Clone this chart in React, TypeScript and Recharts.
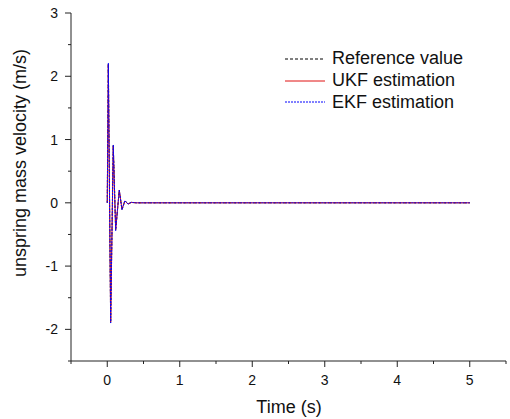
import { LineChart, Line, XAxis, YAxis, Legend } from "recharts";

// ---------------------------------------------------------------------------
// Data
// ---------------------------------------------------------------------------
const timeS = [0, 0.015, 0.047, 0.083, 0.116, 0.166, 0.203, 0.244, 0.286, 0.33, 0.4, 1, 2, 3, 4, 5];
const referenceV = [0, 2.2, -1.89, 0.91, -0.43, 0.2, -0.11, 0.035, -0.02, 0.008, 0, 0, 0, 0, 0, 0];
const ukfV = [0, 2.19, -1.88, 0.9, -0.42, 0.2, -0.1, 0.03, -0.02, 0.006, 0, 0, 0, 0, 0, 0];
const ekfV = [0, 2.21, -1.9, 0.915, -0.44, 0.205, -0.11, 0.035, -0.02, 0.008, 0, 0, 0, 0, 0, 0];

const xTicks = [-0.5, 0, 0.5, 1, 1.5, 2, 2.5, 3, 3.5, 4, 4.5, 5, 5.5];
const yTicks = [-2.5, -2, -1.5, -1, -0.5, 0, 0.5, 1, 1.5, 2, 2.5, 3];

const seriesNames = ["Reference value", "UKF estimation", "EKF estimation"];
const seriesColors = ["#000000", "#e01010", "#0000ff"];
const seriesDash = ["3 2", undefined, "2 1"];

const data = timeS.map((t, i) => ({
  t,
  ref: referenceV[i],
  ukf: ukfV[i],
  ekf: ekfV[i],
}));

const FONT = '"Liberation Sans", Arial, Helvetica, sans-serif';

// ---------------------------------------------------------------------------
// Ticks
// ---------------------------------------------------------------------------
function XTick({ x, y, payload }: any) {
  const v = payload.value;
  const major = Number.isInteger(v);
  return (
    <g>
      <line x1={x} x2={x} y1={y} y2={y + (major ? 6 : 3)} stroke="#222" />
      {major && (
        <text x={x} y={y + 24} textAnchor="middle" fontSize={14} fill="#111" fontFamily={FONT}>
          {v}
        </text>
      )}
    </g>
  );
}

function YTick({ x, y, payload }: any) {
  const v = payload.value;
  const major = Number.isInteger(v);
  return (
    <g>
      <line x1={x} x2={x - (major ? 6 : 3)} y1={y} y2={y} stroke="#222" />
      {major && (
        <text x={x - 13} y={y + 5} textAnchor="end" fontSize={14} fill="#111" fontFamily={FONT}>
          {v}
        </text>
      )}
    </g>
  );
}

// ---------------------------------------------------------------------------
// Legend
// ---------------------------------------------------------------------------
function ChartLegend() {
  return (
    <div style={{ fontFamily: FONT, fontSize: 18, color: "#111" }}>
      {seriesNames.map((name, i) => (
        <div key={name} style={{ display: "flex", alignItems: "center", height: 21.7 }}>
          <svg width={40} height={4} style={{ marginRight: 7 }}>
            <line
              x1={0}
              x2={40}
              y1={2}
              y2={2}
              stroke={seriesColors[i]}
              strokeWidth={1}
              strokeDasharray={seriesDash[i]}
            />
          </svg>
          <span>{name}</span>
        </div>
      ))}
    </div>
  );
}

// ---------------------------------------------------------------------------
// Component
// ---------------------------------------------------------------------------
export default function App() {
  return (
    <div style={{ position: "absolute", left: 0, top: 0 }}>
      <LineChart
        width={510}
        height={419}
        data={data}
        margin={{ top: 13, right: 4, left: 0, bottom: 0 }}
      >
        <XAxis
          type="number"
          dataKey="t"
          domain={[-0.5, 5.5]}
          ticks={xTicks}
          interval={0}
          height={58}
          tickSize={0}
          tickMargin={0}
          tickLine={false}
          tick={<XTick />}
          axisLine={{ stroke: "#222" }}
          label={{
            content: () => (
              <text x={289} y={413} textAnchor="middle" fontSize={18} fill="#111" fontFamily={FONT}>
                Time (s)
              </text>
            ),
          }}
        />
        <YAxis
          type="number"
          domain={[-2.5, 3]}
          ticks={yTicks}
          interval={0}
          width={71}
          tickSize={0}
          tickMargin={0}
          tickLine={false}
          tick={<YTick />}
          axisLine={{ stroke: "#222" }}
          label={{
            content: () => (
              <text
                x={20}
                y={163}
                transform="rotate(-90 20 163)"
                textAnchor="middle"
                dominantBaseline="central"
                fontSize={18}
                fill="#111"
                fontFamily={FONT}
              >
                unspring mass velocity (m/s)
              </text>
            ),
          }}
        />
        <Legend
          layout="vertical"
          align="center"
          verticalAlign="middle"
          content={<ChartLegend />}
          wrapperStyle={{ left: 285, top: 48, width: 200 }}
        />
        <Line
          type="linear"
          dataKey="ref"
          name={seriesNames[0]}
          stroke={seriesColors[0]}
          strokeWidth={1}
          strokeDasharray={seriesDash[0]}
          dot={false}
          isAnimationActive={false}
        />
        <Line
          type="linear"
          dataKey="ukf"
          name={seriesNames[1]}
          stroke={seriesColors[1]}
          strokeWidth={1}
          dot={false}
          isAnimationActive={false}
        />
        <Line
          type="linear"
          dataKey="ekf"
          name={seriesNames[2]}
          stroke={seriesColors[2]}
          strokeWidth={1}
          strokeDasharray={seriesDash[2]}
          dot={false}
          isAnimationActive={false}
        />
      </LineChart>
    </div>
  );
}
